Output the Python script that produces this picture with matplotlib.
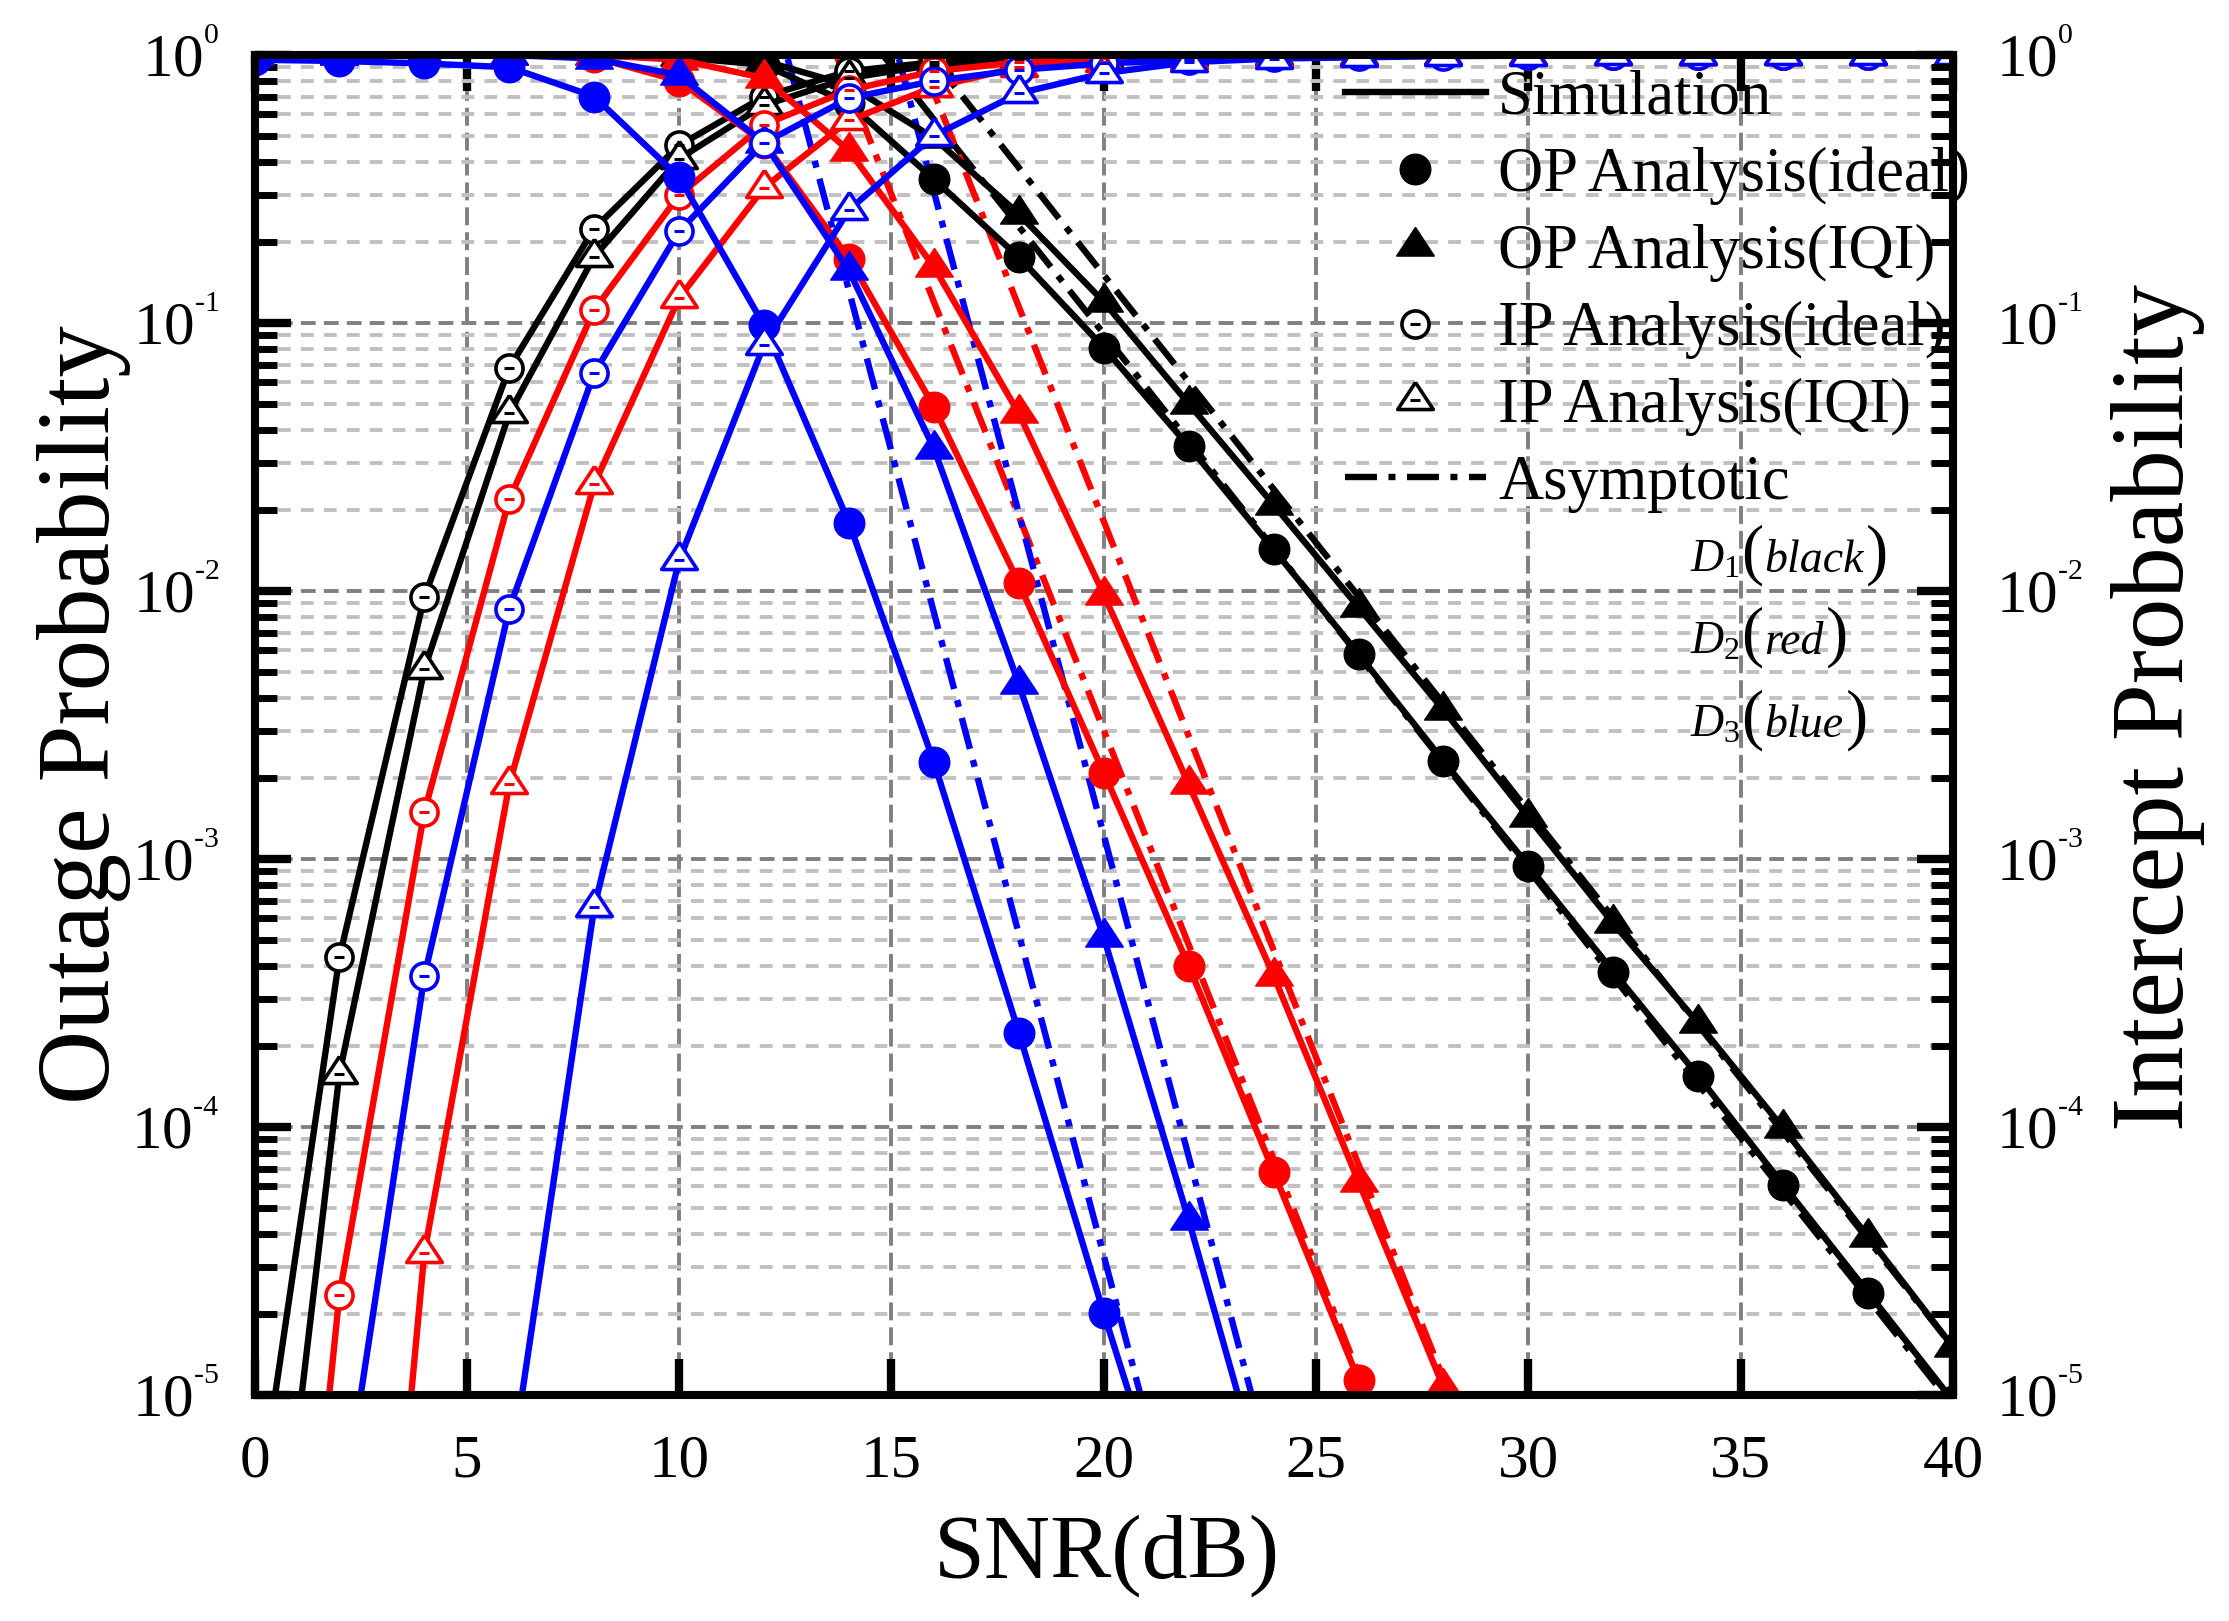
import numpy as np
import matplotlib
matplotlib.use('Agg')
import matplotlib.pyplot as plt
from matplotlib.lines import Line2D
from matplotlib.legend_handler import HandlerTuple
from matplotlib.ticker import LogLocator, NullLocator, MultipleLocator, NullFormatter, FuncFormatter

plt.rcParams['font.family'] = ['Liberation Serif', 'DejaVu Serif']
plt.rcParams['mathtext.fontset'] = 'custom'
plt.rcParams['mathtext.rm'] = 'Liberation Serif'
plt.rcParams['mathtext.it'] = 'Liberation Serif:italic'
plt.rcParams['mathtext.bf'] = 'Liberation Serif:bold'
plt.rcParams['axes.unicode_minus'] = False

nan = np.nan

# ---------------- data ----------------
snr = [0, 2, 4, 6, 8, 10, 12, 14, 16, 18, 20, 22, 24, 26, 28, 30, 32, 34, 36, 38, 40]

# Outage probability (simulation + analysis)
op_ideal_d1 = [1.0, 1.0, 1.0, 1.0, 0.995, 0.98, 0.92, 0.66, 0.344, 0.176, 0.081, 0.0347, 0.0143,
               0.00582, 0.00232, 9.44e-4, 3.8e-4, 1.55e-4, 6.08e-5, 2.41e-5, 9.5e-6]
op_iqi_d1 = [1.0, 1.0, 1.0, 1.0, 1.0, 0.99, 0.95, 0.77, 0.49, 0.255, 0.12, 0.050, 0.021,
             0.0087, 0.0036, 0.00143, 5.75e-4, 2.44e-4, 9.9e-5, 3.89e-5, 1.51e-5]
op_ideal_d2 = [1.0, 1.0, 1.0, 1.0, 0.98, 0.8, 0.47, 0.174, 0.0487, 0.0107, 0.0021, 4.0e-4, 6.8e-5,
               1.14e-5, 1.5e-6, nan, nan, nan, nan, nan, nan]
op_iqi_d2 = [1.0, 1.0, 1.0, 1.0, 1.0, 0.96, 0.82, 0.44, 0.162, 0.046, 0.0097, 0.0019, 3.67e-4,
             6.25e-5, 1.07e-5, 1.5e-6, nan, nan, nan, nan, nan]
op_ideal_d3 = [0.96, 0.95, 0.93, 0.90, 0.70, 0.35, 0.098, 0.018, 0.0023, 2.25e-4, 2.02e-5, 2.0e-6,
               nan, nan, nan, nan, nan, nan, nan, nan, nan]
op_iqi_d3 = [1.0, 1.0, 1.0, 1.0, 0.97, 0.84, 0.47, 0.157, 0.034, 0.0045, 5.1e-4, 4.5e-5, 3.4e-6,
             nan, nan, nan, nan, nan, nan, nan, nan]

# Intercept probability (simulation + analysis)
ip_ideal_d1 = [3.0e-6, 4.3e-4, 0.0095, 0.068, 0.225, 0.46, 0.70, 0.87, 0.94, 0.975, 0.99, 0.995,
               0.998, 1.0, 1.0, 1.0, 1.0, 1.0, 1.0, 1.0, 1.0]
ip_iqi_d1 = [3.2e-7, 1.58e-4, 0.0051, 0.046, 0.177, 0.41, 0.65, 0.82, 0.92, 0.965, 0.985, 0.993,
             0.997, 1.0, 1.0, 1.0, 1.0, 1.0, 1.0, 1.0, 1.0]
ip_ideal_d2 = [1.9e-8, 2.36e-5, 0.0015, 0.022, 0.112, 0.30, 0.55, 0.74, 0.87, 0.94, 0.975, 0.99,
               0.996, 1.0, 1.0, 1.0, 1.0, 1.0, 1.0, 1.0, 1.0]
ip_iqi_d2 = [nan, 1.3e-8, 3.39e-5, 0.0019, 0.025, 0.124, 0.32, 0.57, 0.76, 0.90, 0.94, 0.97,
             0.985, 0.995, 1.0, 1.0, 1.0, 1.0, 1.0, 1.0, 1.0]
ip_ideal_d3 = [nan, 3.0e-6, 3.65e-4, 0.0086, 0.065, 0.22, 0.47, 0.69, 0.80, 0.88, 0.93, 0.96,
               0.98, 0.99, 0.995, 1.0, 1.0, 1.0, 1.0, 1.0, 1.0]
ip_iqi_d3 = [nan, nan, nan, 4.8e-6, 6.6e-4, 0.013, 0.083, 0.264, 0.50, 0.72, 0.855, 0.94,
             0.97, 0.98, 0.99, 0.995, 1.0, 1.0, 1.0, 1.0, 1.0]

# Asymptotic outage probability
asy_ideal_d1 = [nan, nan, nan, nan, nan, nan, 3.63, 1.445, 0.575, 0.229, 0.0912, 0.0363, 0.01445,
                0.00575, 0.00229, 9.12e-4, 3.63e-4, 1.445e-4, 5.75e-5, 2.29e-5, 9.12e-6]
asy_iqi_d1 = [nan, nan, nan, nan, nan, nan, nan, 2.4, 0.955, 0.38, 0.151, 0.0603, 0.024,
              0.00955, 0.0038, 0.00151, 6.03e-4, 2.4e-4, 9.55e-5, 3.8e-5, 1.51e-5]
asy_ideal_d2 = [nan, nan, nan, nan, nan, nan, 4.79, 0.759, 0.12, 0.019, 0.00302, 4.79e-4, 7.59e-5,
                1.2e-5, 1.9e-6, nan, nan, nan, nan, nan, nan]
asy_iqi_d2 = [nan, nan, nan, nan, nan, nan, nan, 4.57, 0.724, 0.115, 0.0182, 0.00288, 4.57e-4,
              7.24e-5, 1.15e-5, 1.8e-6, nan, nan, nan, nan, nan]
asy_ideal_d3 = [nan, nan, nan, nan, nan, nan, 2.09, 0.132, 0.00832, 5.25e-4, 3.31e-5, 2.09e-6,
                nan, nan, nan, nan, nan, nan, nan, nan, nan]
asy_iqi_d3 = [nan, nan, nan, nan, nan, nan, nan, 4.9, 0.309, 0.0195, 0.00123, 7.76e-5, 4.9e-6,
              nan, nan, nan, nan, nan, nan, nan, nan]

legend_labels = ['Simulation', 'OP Analysis(ideal)', 'OP Analysis(IQI)',
                 'IP Analysis(ideal)', 'IP Analysis(IQI)', 'Asymptotic']
d_subs = ['1', '2', '3']
d_words = ['black', 'red', 'blue']
colors = ['#000000', '#FF0000', '#0000FF']

# ---------------- style ----------------
W_PX, H_PX = 2229, 1621
TRI = [(0.0, 1.013), (-1.0, -0.507), (1.0, -0.507), (0.0, 1.013)]
LW = 4.6
ASY_LS = (0, (5.0, 1.8, 1.1, 1.8))
filled_circle = dict(marker='o', ms=22, mew=1.0)
filled_tri = dict(marker=TRI, ms=27.5, mew=1.0)
open_circle = dict(marker='o', ms=19.5, mew=2.6, mfc='white')
open_tri = dict(marker=TRI, ms=26, mew=2.6, mfc='white')
dash_mk = dict(marker='_', ms=6.5, mew=2.2, ls='none')

fig = plt.figure(figsize=(W_PX / 100, H_PX / 100), dpi=100)
L, R, T, B = 254.5 / W_PX, 1953 / W_PX, 55 / H_PX, 1395 / H_PX
ax = fig.add_axes([L, 1 - B, R - L, B - T])

ax.set_yscale('log')
ax.set_xlim(0, 40)
ax.set_ylim(1e-5, 1)

groups = [
    (op_ideal_d1, op_iqi_d1, ip_ideal_d1, ip_iqi_d1, asy_ideal_d1, asy_iqi_d1),
    (op_ideal_d2, op_iqi_d2, ip_ideal_d2, ip_iqi_d2, asy_ideal_d2, asy_iqi_d2),
    (op_ideal_d3, op_iqi_d3, ip_ideal_d3, ip_iqi_d3, asy_ideal_d3, asy_iqi_d3),
]

for c, (opi, opq, ipi, ipq, asi, asq) in zip(colors, groups):
    ax.plot(snr, asi, color=c, lw=LW, ls=ASY_LS, zorder=2)
    ax.plot(snr, asq, color=c, lw=LW, ls=ASY_LS, zorder=2)
    ax.plot(snr, opi, color=c, lw=LW, mfc=c, mec=c, zorder=3, **filled_circle)
    ax.plot(snr, opq, color=c, lw=LW, mfc=c, mec=c, zorder=3, **filled_tri)
    ax.plot(snr, ipi, color=c, lw=LW, mec=c, zorder=3, **open_circle)
    ax.plot(snr, ipi, color=c, zorder=3.1, **dash_mk)
    ax.plot(snr, ipq, color=c, lw=LW, mec=c, zorder=3, **open_tri)
    ax.plot(snr, ipq, color=c, zorder=3.1, **dash_mk)


def log_fmt(v, pos):
    k = int(round(np.log10(v)))
    if k < 0:
        return r'$10^{{}^{\text{-%d}}}$' % (-k)
    return r'$10^{{}^{\text{%d}}}$' % k


# ---------------- axes ----------------
ax.xaxis.set_major_locator(MultipleLocator(5))
ax.xaxis.set_minor_locator(NullLocator())
ax.yaxis.set_major_locator(LogLocator(base=10, numticks=12))
ax.yaxis.set_major_formatter(FuncFormatter(log_fmt))
ax.yaxis.set_minor_locator(LogLocator(base=10, subs=np.arange(2, 10), numticks=120))
ax.yaxis.set_minor_formatter(NullFormatter())

ax.grid(which='major', axis='x', color='#808080', ls=(0, (4.6, 1.8)), lw=2.8)
ax.grid(which='major', axis='y', color='#808080', ls=(0, (3.8, 2.1)), lw=2.8)
ax.grid(which='minor', axis='y', color='#C0C0C0', ls=(0, (3.3, 2.6)), lw=2.8)

SPW = 5.8
for sp in ax.spines.values():
    sp.set_linewidth(SPW)

ax.tick_params(axis='both', which='major', direction='in', length=26, width=6, labelsize=44)
ax.tick_params(axis='y', which='minor', direction='in', length=15.5, width=5)
ax.tick_params(axis='x', which='major', top=True, pad=28)
ax.tick_params(axis='y', which='both', pad=25)

ax2 = ax.twinx()
ax2.set_yscale('log')
ax2.set_ylim(1e-5, 1)
ax2.yaxis.set_major_locator(LogLocator(base=10, numticks=12))
ax2.yaxis.set_major_formatter(FuncFormatter(log_fmt))
ax2.yaxis.set_minor_locator(LogLocator(base=10, subs=np.arange(2, 10), numticks=120))
ax2.yaxis.set_minor_formatter(NullFormatter())
ax2.tick_params(axis='y', which='major', direction='in', length=26, width=6, labelsize=44, pad=31)
ax2.tick_params(axis='y', which='minor', direction='in', length=15.5, width=5)
for sp in ax2.spines.values():
    sp.set_linewidth(SPW)

ax.set_xlabel('SNR(dB)', fontsize=66, va='center', ha='center')
ax.xaxis.set_label_coords(0.5017, -0.1201)
ax.set_ylabel('Outage Probability', fontsize=74, va='center', ha='center')
ax.yaxis.set_label_coords(-0.1005, 0.5075)
ax2.set_ylabel('Intercept Probability', fontsize=74, va='center', ha='center', rotation=90)
ax2.yaxis.set_label_coords(1.1207, 0.5127)

# ---------------- legend ----------------
h_sim = Line2D([], [], color='k', lw=LW)
h_opi = Line2D([], [], color='k', ls='none', mfc='k', mec='k', **filled_circle)
h_opq = Line2D([], [], color='k', ls='none', mfc='k', mec='k', **filled_tri)
h_ipi = (Line2D([], [], color='k', ls='none', mec='k', **open_circle),
         Line2D([], [], color='k', **dash_mk))
h_ipq = (Line2D([], [], color='k', ls='none', mec='k', **open_tri),
         Line2D([], [], color='k', **dash_mk))
h_asy = Line2D([], [], color='k', lw=LW, ls=ASY_LS)

leg = ax.legend([h_sim, h_opi, h_opq, h_ipi, h_ipq, h_asy], legend_labels,
                handler_map={tuple: HandlerTuple(ndivide=1, pad=0)},
                loc='upper left', bbox_to_anchor=(1345 / W_PX, 1 - 70 / H_PX),
                bbox_transform=fig.transFigure, frameon=False, fontsize=45,
                handlelength=2.25, handletextpad=0.2, labelspacing=0.3,
                borderpad=0, borderaxespad=0, numpoints=1)
leg.set_zorder(2)

# ---------------- D labels: D_k (word) with tall parentheses ----------------
renderer = fig.canvas.get_renderer()
for sub, word, base_y in zip(d_subs, d_words, [572, 654, 737]):
    x = 1690.0
    pieces = [(r'$D_{%s}$' % sub, 33, 'normal', 1), ('(', 48, 'normal', 1),
              (word, 33, 'italic', 2), (')', 48, 'normal', 0)]
    for s, fs, st, gap in pieces:
        t = fig.text(x / W_PX, 1 - base_y / H_PX, s, fontsize=fs, style=st,
                     ha='left', va='baseline')
        bb = t.get_window_extent(renderer)
        x += bb.width + gap

fig.savefig('out.png', dpi=100)
